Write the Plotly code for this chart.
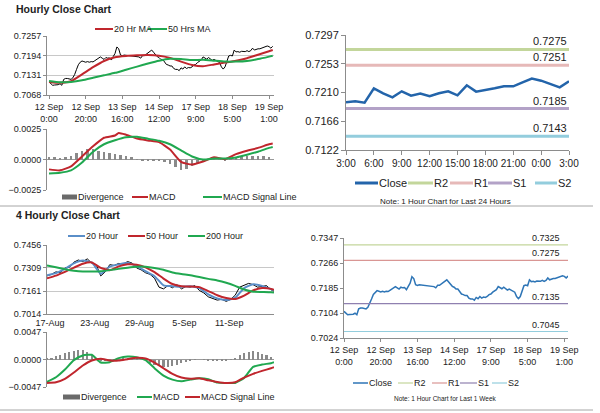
import plotly.graph_objects as go

W, H = 600, 413
FONT = "Liberation Sans, Arial, sans-serif"

# ---------------- hourly close, 12 Sep 0:00 .. 19 Sep ~3:00 (one value per hour)
hourly_close = [
    0.7110, 0.7104, 0.7099, 0.7100, 0.7100, 0.7101, 0.7104, 0.7099, 0.7118, 0.7121,
    0.7121, 0.7119, 0.7118, 0.7123, 0.7134, 0.7150, 0.7165, 0.7173, 0.7177, 0.7175,
    0.7173, 0.7175, 0.7173, 0.7175, 0.7174, 0.7178, 0.7183, 0.7187, 0.7190, 0.7186,
    0.7182, 0.7188, 0.7186, 0.7187, 0.7180, 0.7191, 0.7201, 0.7222, 0.7216, 0.7196,
    0.7194, 0.7196, 0.7195, 0.7194, 0.7194, 0.7193, 0.7192, 0.7191, 0.7191, 0.7190,
    0.7186, 0.7194, 0.7194, 0.7199, 0.7204, 0.7209, 0.7212, 0.7205, 0.7198, 0.7191,
    0.7188, 0.7182, 0.7182, 0.7175, 0.7166, 0.7164, 0.7161, 0.7161, 0.7153, 0.7150,
    0.7150, 0.7146, 0.7155, 0.7151, 0.7158, 0.7153, 0.7156, 0.7155, 0.7158, 0.7164,
    0.7166, 0.7172, 0.7177, 0.7180, 0.7190, 0.7186, 0.7183, 0.7188, 0.7182, 0.7179,
    0.7182, 0.7179, 0.7177, 0.7172, 0.7158, 0.7151, 0.7158, 0.7175, 0.7193, 0.7195,
    0.7193, 0.7212, 0.7206, 0.7207, 0.7205, 0.7208, 0.7208, 0.7207, 0.7210, 0.7207,
    0.7210, 0.7218, 0.7212, 0.7215, 0.7216, 0.7216, 0.7218, 0.7221, 0.7223, 0.7225,
    0.7223, 0.7218, 0.7224,
]
hour_idx = list(range(len(hourly_close)))
hour_ticks = [0, 20, 40, 60, 80, 100, 120]
hour_labels = ["12 Sep<br>0:00", "12 Sep<br>20:00", "13 Sep<br>16:00", "14 Sep<br>12:00",
               "17 Sep<br>9:00", "18 Sep<br>5:00", "19 Sep<br>1:00"]

ma_hours = [0, 6, 12, 18, 24, 30, 36, 42, 48, 54, 60, 66, 72, 78, 84, 90, 96, 102, 108, 114, 120, 122]
ma20_hr = [0.7110, 0.7107, 0.7112, 0.7134, 0.7157, 0.7177, 0.7189, 0.7193, 0.7195, 0.7196, 0.7194,
           0.7187, 0.7175, 0.7164, 0.7160, 0.7166, 0.7172, 0.7178, 0.7186, 0.7197, 0.7208, 0.7212]
ma50_hr = [0.7113, 0.7109, 0.7110, 0.7115, 0.7123, 0.7131, 0.7139, 0.7149, 0.7159, 0.7169, 0.7178,
           0.7184, 0.7183, 0.7180, 0.7181, 0.7178, 0.7175, 0.7175, 0.7177, 0.7183, 0.7191, 0.7194]

macd_hours = [0, 6, 12, 18, 24, 30, 36, 38, 42, 48, 54, 60, 66, 72, 78, 84, 90, 96, 102, 108, 114, 120, 122]
macd_hr = [-0.00081, -0.00089, -0.00056, 0.00025, 0.00108, 0.00178, 0.00197, 0.00217, 0.00203, 0.00172,
           0.00156, 0.00142, 0.00081, -0.00019, -0.00042, -0.00017, 0.00019, 0.00003, 0.00044, 0.00072,
           0.00095, 0.00125, 0.00131]
signal_hr = [-0.00114, -0.00108, -0.00089, -0.00025, 0.00064, 0.00125, 0.00158, 0.00183, 0.00186, 0.00170,
             0.00153, 0.00125, 0.00075, 0.00025, 0.00000, 0.00008, 0.00008, 0.00017, 0.00039, 0.00064,
             0.00095, 0.00103]
div_hours = list(range(0, 121, 3))
div_hr = [0.00022, 0.00017, 0.00014, 0.00022, 0.00031, 0.00050, 0.00070, 0.00086, 0.00089, 0.00070,
          0.00064, 0.00053, 0.00047, 0.00039, 0.00031, 0.00017, 0.00003, -0.00008, -0.00011, -0.00008,
          -0.00014, -0.00022, -0.00036, -0.00061, -0.00086, -0.00078, -0.00053, -0.00028, -0.00011, 0.00003,
          0.00011, 0.00006, -0.00006, 0.00008, 0.00019, 0.00025, 0.00028, 0.00031, 0.00031, 0.00028, 0.00022]

# ---------------- 4-hourly chart, 17 Aug .. 14 Sep (bar index)
close_bars = list(range(0, 151, 3)) + [152]
close_4h = [0.7258, 0.7268, 0.7284, 0.7278, 0.7309, 0.7313, 0.7346, 0.7360, 0.7350, 0.7367,
            0.7340, 0.7330, 0.7258, 0.7284, 0.7330, 0.7325, 0.7338, 0.7334, 0.7350, 0.7340,
            0.7309, 0.7297, 0.7278, 0.7268, 0.7243, 0.7186, 0.7175, 0.7196, 0.7182, 0.7202,
            0.7175, 0.7190, 0.7186, 0.7196, 0.7165, 0.7149, 0.7124, 0.7114, 0.7103, 0.7108,
            0.7095, 0.7108, 0.7134, 0.7186, 0.7196, 0.7210, 0.7202, 0.7186, 0.7190, 0.7196,
            0.7169, 0.7161]
ma_bars = list(range(0, 151, 6)) + [152]
ma20_4h = [0.7262, 0.7276, 0.7303, 0.7338, 0.7356, 0.7344, 0.7272, 0.7317, 0.7332, 0.7340, 0.7321,
           0.7288, 0.7256, 0.7198, 0.7192, 0.7188, 0.7192, 0.7180, 0.7140, 0.7114, 0.7103, 0.7118,
           0.7180, 0.7204, 0.7194, 0.7173, 0.7165]
ma50_4h = [0.7243, 0.7260, 0.7284, 0.7311, 0.7336, 0.7344, 0.7309, 0.7295, 0.7319, 0.7332, 0.7330,
           0.7313, 0.7282, 0.7241, 0.7206, 0.7192, 0.7190, 0.7186, 0.7161, 0.7134, 0.7116, 0.7110,
           0.7132, 0.7165, 0.7180, 0.7175, 0.7169]
ma200_4h = [0.7325, 0.7313, 0.7301, 0.7291, 0.7286, 0.7286, 0.7288, 0.7295, 0.7303, 0.7311, 0.7317,
            0.7317, 0.7309, 0.7297, 0.7280, 0.7270, 0.7262, 0.7251, 0.7239, 0.7229, 0.7214, 0.7194,
            0.7171, 0.7157, 0.7155, 0.7153, 0.7151]
macd_4h = [-0.00384, -0.00304, -0.00172, -0.00011, 0.00069, 0.00080, -0.00052, -0.00046, 0.00023, 0.00052,
           0.00040, -0.00011, -0.00149, -0.00275, -0.00344, -0.00372, -0.00344, -0.00321, -0.00338, -0.00395,
           -0.00401, -0.00401, -0.00315, -0.00126, -0.00086, -0.00063, -0.00046]
signal_4h = [-0.00401, -0.00390, -0.00332, -0.00223, -0.00103, -0.00017, 0.00011, -0.00017, -0.00017, 0.00006,
             0.00029, 0.00017, -0.00052, -0.00149, -0.00246, -0.00309, -0.00327, -0.00321, -0.00355, -0.00384,
             -0.00401, -0.00390, -0.00309, -0.00246, -0.00195, -0.00149, -0.00132]
div_bars = list(range(0, 151, 3))
div_4h = [0.00011, 0.00023, 0.00057, 0.00080, 0.00103, 0.00126, 0.00143, 0.00155, 0.00155, 0.00126,
          0.00080, 0.00023, -0.00011, -0.00029, -0.00023, -0.00011, 0.00000, 0.00011, 0.00017, 0.00023,
          0.00017, 0.00000, -0.00023, -0.00057, -0.00092, -0.00115, -0.00126, -0.00120, -0.00103, -0.00086,
          -0.00063, -0.00040, -0.00017, -0.00006, 0.00000, -0.00006, -0.00011, -0.00017, -0.00023, -0.00023,
          -0.00017, -0.00006, 0.00023, 0.00069, 0.00109, 0.00132, 0.00138, 0.00126, 0.00097, 0.00069, 0.00046]
bar_ticks = [2, 32, 62, 92, 122]
bar_labels = ["17-Aug", "23-Aug", "29-Aug", "5-Sep", "11-Sep"]

# ---------------- last 24 hours with pivot levels
day_close = [0.71946, 0.71961, 0.71941, 0.72159, 0.72083, 0.72022, 0.72113, 0.72047, 0.72078, 0.72037,
             0.72083, 0.72113, 0.72052, 0.72204, 0.72108, 0.72128, 0.72159, 0.72189, 0.72189, 0.72250,
             0.72306, 0.72275, 0.72225, 0.72174, 0.72265]
day_idx = list(range(len(day_close)))
day_labels = ["3:00", "6:00", "9:00", "12:00", "15:00", "18:00", "21:00", "0:00", "3:00"]
day_levels = {"R2": 0.7275, "R1": 0.7251, "S1": 0.7185, "S2": 0.7143}
week_levels = {"R2": 0.7325, "R1": 0.7275, "S1": 0.7135, "S2": 0.7045}

RED = "#c0262d"
GREEN = "#20a850"
BLUE20 = "#5a8ec8"
GREY_BAR = "#8a8a8a"
LVL_COL = {"R2": "#c3d69b", "R1": "#e6b9b8", "S1": "#b3a2c7", "S2": "#93cddd"}
LVL_COL2 = {"R2": "#c3d69b", "R1": "#d99694", "S1": "#8f80b0", "S2": "#93cddd"}
SMOOTH = dict(shape="spline", smoothing=0.5)

fig = go.Figure()

# hourly price panel
fig.add_trace(go.Scatter(x=hour_idx, y=hourly_close, mode="lines", line=dict(color="black", width=1),
                         xaxis="x", yaxis="y"))
fig.add_trace(go.Scatter(x=ma_hours, y=ma20_hr, mode="lines", line=dict(color=RED, width=2, **SMOOTH),
                         xaxis="x", yaxis="y"))
fig.add_trace(go.Scatter(x=ma_hours, y=ma50_hr, mode="lines", line=dict(color=GREEN, width=2, **SMOOTH),
                         xaxis="x", yaxis="y"))
# hourly MACD panel
fig.add_trace(go.Bar(x=div_hours, y=div_hr, width=1.3, marker=dict(color=GREY_BAR, line_width=0),
                     xaxis="x2", yaxis="y2"))
fig.add_trace(go.Scatter(x=macd_hours, y=macd_hr, mode="lines", line=dict(color=RED, width=2, **SMOOTH),
                         xaxis="x2", yaxis="y2"))
fig.add_trace(go.Scatter(x=ma_hours, y=signal_hr, mode="lines", line=dict(color=GREEN, width=2, **SMOOTH),
                         xaxis="x2", yaxis="y2"))
# 4-hourly price panel
fig.add_trace(go.Scatter(x=close_bars, y=close_4h, mode="lines", line=dict(color="black", width=1),
                         xaxis="x3", yaxis="y3"))
fig.add_trace(go.Scatter(x=ma_bars, y=ma20_4h, mode="lines", line=dict(color=BLUE20, width=2, **SMOOTH),
                         xaxis="x3", yaxis="y3"))
fig.add_trace(go.Scatter(x=ma_bars, y=ma50_4h, mode="lines", line=dict(color=RED, width=2, **SMOOTH),
                         xaxis="x3", yaxis="y3"))
fig.add_trace(go.Scatter(x=ma_bars, y=ma200_4h, mode="lines", line=dict(color=GREEN, width=2, **SMOOTH),
                         xaxis="x3", yaxis="y3"))
# 4-hourly MACD panel
fig.add_trace(go.Bar(x=div_bars, y=div_4h, width=1.4, marker=dict(color=GREY_BAR, line_width=0),
                     xaxis="x4", yaxis="y4"))
fig.add_trace(go.Scatter(x=ma_bars, y=macd_4h, mode="lines", line=dict(color=GREEN, width=2, **SMOOTH),
                         xaxis="x4", yaxis="y4"))
fig.add_trace(go.Scatter(x=ma_bars, y=signal_4h, mode="lines", line=dict(color=RED, width=2, **SMOOTH),
                         xaxis="x4", yaxis="y4"))
# last 24 hours
fig.add_trace(go.Scatter(x=day_idx, y=day_close, mode="lines", line=dict(color="#2364aa", width=2.5),
                         xaxis="x5", yaxis="y5"))
for name, lvl in day_levels.items():
    fig.add_trace(go.Scatter(x=[day_idx[0], day_idx[-1]], y=[lvl, lvl], mode="lines",
                             line=dict(color=LVL_COL[name], width=3), xaxis="x5", yaxis="y5"))
    fig.add_annotation(x=day_idx[-1], y=lvl, xref="x5", yref="y5", text=f"{lvl:.4f}", showarrow=False,
                       xanchor="right", yanchor="bottom", yshift=0, font=dict(size=11, color="#222"))
# last week
fig.add_trace(go.Scatter(x=hour_idx, y=hourly_close, mode="lines", line=dict(color="#2e75b6", width=1.5),
                         xaxis="x6", yaxis="y6"))
for name, lvl in week_levels.items():
    fig.add_trace(go.Scatter(x=[hour_idx[0], hour_idx[-1]], y=[lvl, lvl], mode="lines",
                             line=dict(color=LVL_COL2[name], width=1.2), xaxis="x6", yaxis="y6"))
    fig.add_annotation(x=hour_idx[-1], y=lvl, xref="x6", yref="y6", text=f"{lvl:.4f}", showarrow=False,
                       xanchor="right", yanchor="bottom", xshift=-6, font=dict(size=9, color="#222"))


def px(x):
    return x / W


def py(y):
    return 1 - y / H


AX = dict(showline=True, linecolor="#8c8c8c", linewidth=1, ticks="outside", ticklen=3, tickcolor="#8c8c8c",
          tickfont=dict(size=9, color="#222"), showgrid=False, zeroline=False, tickangle=0)
GRID = dict(showgrid=True, gridcolor="#c8c8c8", gridwidth=1)

left_dom = [px(47), px(274)]
fig.update_layout(
    xaxis=dict(AX, domain=left_dom, range=[-1.1, 122.7], tickvals=hour_ticks, ticktext=hour_labels, anchor="y"),
    yaxis=dict(AX, **GRID, domain=[py(95), py(36)], range=[0.7068, 0.7257],
               tickvals=[0.7068, 0.7131, 0.7194, 0.7257], tickformat=".4f", anchor="x"),
    xaxis2=dict(domain=left_dom, range=[-1.1, 122.7], showticklabels=False, showline=False, showgrid=False,
                zeroline=False, anchor="y2"),
    yaxis2=dict(AX, **GRID, domain=[py(190), py(129)], range=[-0.0025, 0.0025],
                tickvals=[-0.0025, 0, 0.0025], tickformat=".4f", zeroline=True, zerolinecolor="#9a9a9a",
                anchor="x2"),
    xaxis3=dict(AX, domain=left_dom, range=[0, 152], tickvals=bar_ticks, ticktext=bar_labels, ticks="",
                anchor="y3"),
    yaxis3=dict(AX, **GRID, domain=[py(314), py(245)], range=[0.7014, 0.7456],
                tickvals=[0.7014, 0.7161, 0.7309, 0.7456], tickformat=".4f", anchor="x3"),
    xaxis4=dict(domain=left_dom, range=[0, 152], showticklabels=False, showline=False, showgrid=False,
                zeroline=False, anchor="y4"),
    yaxis4=dict(AX, **GRID, domain=[py(387), py(332)], range=[-0.0047, 0.0047],
                tickvals=[-0.0047, 0, 0.0047], tickformat=".4f", zeroline=True, zerolinecolor="#9a9a9a",
                anchor="x4"),
    xaxis5=dict(AX, domain=[px(346), px(569)], range=[0, 24], tickvals=list(range(0, 25, 3)),
                ticktext=day_labels, tickfont=dict(size=10, color="#222"), ticklen=4, anchor="y5"),
    yaxis5=dict(AX, domain=[py(150), py(35)], range=[0.7122, 0.7297],
                tickvals=[0.7122, 0.7166, 0.7210, 0.7253, 0.7297], tickformat=".4f",
                tickfont=dict(size=11, color="#222"), ticklen=4, anchor="x5"),
    xaxis6=dict(AX, domain=[px(344), px(568)], range=[0, 122], tickvals=hour_ticks, ticktext=hour_labels,
                anchor="y6"),
    yaxis6=dict(AX, domain=[py(338), py(238)], range=[0.7024, 0.7347],
                tickvals=[0.7024, 0.7104, 0.7185, 0.7266, 0.7347], tickformat=".4f", anchor="x6"),
)


def key(x0, x1, y, text, color, kind="line", lw=2, size=9):
    if kind == "line":
        fig.add_shape(type="line", xref="paper", yref="paper", x0=px(x0), x1=px(x1), y0=py(y), y1=py(y),
                      line=dict(color=color, width=lw))
    else:
        fig.add_shape(type="rect", xref="paper", yref="paper", x0=px(x0), x1=px(x1), y0=py(y + 2.5),
                      y1=py(y - 2.5), fillcolor=color, line_width=0)
    fig.add_annotation(xref="paper", yref="paper", x=px(x1), y=py(y), text=text, showarrow=False,
                       xanchor="left", yanchor="middle", borderpad=0, font=dict(size=size, color="#222"))


key(95, 113, 29, "20 Hr MA", RED)
key(148, 167, 29, "50 Hrs MA", GREEN)
key(62, 77, 197, "Divergence", "#6a6a6a", kind="rect")
key(132, 148, 197, "MACD", RED)
key(203, 222, 197, "MACD Signal Line", GREEN)
key(68, 85, 236, "20 Hour", BLUE20)
key(128, 145, 236, "50 Hour", RED)
key(188, 205, 236, "200 Hour", GREEN)
key(63, 80, 397, "Divergence", "#6a6a6a", kind="rect")
key(137, 152, 397, "MACD", GREEN)
key(185, 200, 397, "MACD Signal Line", RED)

key(355, 378, 183, "Close", "#2364aa", lw=3, size=11)
key(408, 433, 183, "R2", LVL_COL["R2"], lw=3, size=11)
key(450, 473, 183, "R1", LVL_COL["R1"], lw=3, size=11)
key(488, 512, 183, "S1", LVL_COL["S1"], lw=3, size=11)
key(535, 557, 183, "S2", LVL_COL["S2"], lw=3, size=11)

key(353, 368, 383, "Close", "#2e75b6", lw=1.5)
key(398, 413, 383, "R2", LVL_COL2["R2"], lw=1.2)
key(432, 447, 383, "R1", LVL_COL2["R1"], lw=1.2)
key(460, 477, 383, "S1", LVL_COL2["S1"], lw=1.2)
key(492, 507, 383, "S2", LVL_COL2["S2"], lw=1.2)

for ty, title in [(9, "Hourly Close Chart"), (215, "4 Hourly Close Chart")]:
    fig.add_annotation(xref="paper", yref="paper", x=px(14), y=py(ty), text=f"<b>{title}</b>", showarrow=False,
                       xanchor="left", yanchor="middle", font=dict(size=10.5, color="#222"))

fig.add_annotation(xref="paper", yref="paper", x=px(445), y=py(201), text="Note: 1 Hour Chart for Last 24 Hours",
                   showarrow=False, xanchor="center", yanchor="middle", font=dict(size=8, color="#222"))
fig.add_annotation(xref="paper", yref="paper", x=px(445), y=py(398), text="Note: 1 Hour Chart for Last 1 Week",
                   showarrow=False, xanchor="center", yanchor="middle", font=dict(size=6.5, color="#222"))

for sy in [206, 410]:
    fig.add_shape(type="line", xref="paper", yref="paper", x0=0, x1=px(593), y0=py(sy), y1=py(sy),
                  line=dict(color="#a6a6a6", width=1))

fig.update_layout(
    width=W, height=H, autosize=False, showlegend=False, template="none",
    margin=dict(l=0, r=0, t=0, b=0), paper_bgcolor="white", plot_bgcolor="white",
    font=dict(family=FONT, size=9, color="#222"), bargap=0,
)

fig.write_html("out.html", config={"displayModeBar": False},
               post_script="document.body.style.margin='0';")
